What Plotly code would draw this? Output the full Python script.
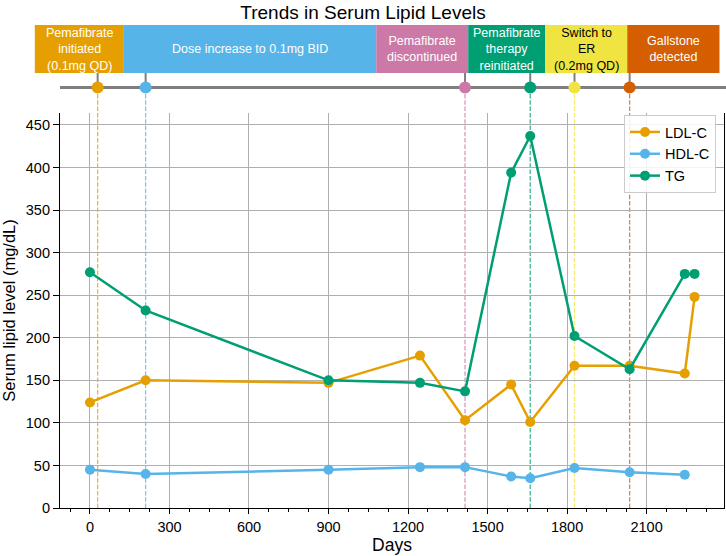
import plotly.graph_objects as go

# ---------------- data ----------------
days = [0, 210, 900, 1245, 1415, 1589, 1661, 1828, 2036, 2244, 2281]
ldl = [124, 150, 147, 179, 103, 145, 101, 167, 167, 158, 248]
hdl = [45, 40, 45, 48, 48, 37, 35, 47, 42, 39, None]
tg = [277, 232, 150, 147, 137, 394, 437, 202, 163, 275, 275]

event_days = [29, 210, 1415, 1661, 1828, 2036]
event_labels = [
    "Pemafibrate<br>initiated<br>(0.1mg QD)",
    "Dose increase to 0.1mg BID",
    "Pemafibrate<br>discontinued",
    "Pemafibrate<br>therapy<br>reinitiated",
    "Switch to<br>ER<br>(0.2mg QD)",
    "Gallstone<br>detected",
]
band_edges = [-208, 128, 1080, 1427, 1718, 2027, 2375]
event_colors = ["#E69F00", "#56B4E9", "#CC79A7", "#009E73", "#F0E442", "#D55E00"]
event_text_colors = ["white", "white", "white", "white", "black", "white"]

x_ticks = [0, 300, 600, 900, 1200, 1500, 1800, 2100]
y_ticks = [0, 50, 100, 150, 200, 250, 300, 350, 400, 450]

# ---------------- layout geometry ----------------
W, H = 726, 556
ml, mr, mt, mb = 30, 0, 20, 48
pw = W - ml - mr
ph = H - mt - mb
xdom = [(60 - ml) / pw, (724 - ml) / pw]
ydom = [0, (508 - 113) / ph]
y2dom = [(H - mb - 100) / ph, 1.0]
xrange_main = [-113, 2392]
scale = (xrange_main[1] - xrange_main[0]) / (xdom[1] - xdom[0])
xrange_top = [xrange_main[0] - xdom[0] * scale, xrange_main[1] + (1 - xdom[1]) * scale]
# top panel vertical units: value v -> pixel (100 - v)
y2range = [0, 80]
band_y0, band_y1 = 100 - 73, 100 - 25
line_y = 100 - 87.5
dash_top_paper = (H - mb - 88) / ph

FONT = "Liberation Sans, Arial, sans-serif"
C_LDL, C_HDL, C_TG = "#E69F00", "#56B4E9", "#009E73"

fig = go.Figure()

for name, vals, col in [("LDL-C", ldl, C_LDL), ("HDL-C", hdl, C_HDL), ("TG", tg, C_TG)]:
    fig.add_trace(go.Scatter(
        x=days, y=vals, name=name, mode="lines+markers",
        line=dict(color=col, width=2.5),
        marker=dict(color=col, size=10),
        connectgaps=False,
        xaxis="x", yaxis="y",
    ))

shapes = []
annotations = []

# dashed event lines
for d, c in zip(event_days, event_colors):
    shapes.append(dict(type="line", xref="x", yref="paper", x0=d, x1=d,
                       y0=0, y1=dash_top_paper,
                       line=dict(color=c, width=1.3, dash="4.5px,1.8px"), opacity=0.75, layer="between"))

# timeline gray line
shapes.append(dict(type="line", xref="x2", yref="y2", x0=xrange_main[0], x1=xrange_top[1],
                   y0=line_y, y1=line_y, line=dict(color="#7f7f7f", width=3), layer="below"))

# bands, connectors, labels
for i, (lab, c, tc) in enumerate(zip(event_labels, event_colors, event_text_colors)):
    x0, x1 = band_edges[i], band_edges[i + 1]
    shapes.append(dict(type="rect", xref="x2", yref="y2", x0=x0, x1=x1,
                       y0=band_y0, y1=band_y1, fillcolor=c, line=dict(width=0), layer="below"))
    annotations.append(dict(xref="x2", yref="y2", x=(x0 + x1) / 2, y=(band_y0 + band_y1) / 2,
                            text=lab, showarrow=False,
                            font=dict(family=FONT, size=12.5, color=tc)))
for d in event_days:
    shapes.append(dict(type="line", xref="x2", yref="y2", x0=d, x1=d,
                       y0=line_y, y1=band_y0, line=dict(color="#7f7f7f", width=2), layer="below"))

fig.add_trace(go.Scatter(
    x=event_days, y=[line_y] * len(event_days), mode="markers",
    marker=dict(color=event_colors, size=12),
    xaxis="x2", yaxis="y2", showlegend=False, hoverinfo="skip",
))

fig.update_layout(
    width=W, height=H,
    margin=dict(l=ml, r=mr, t=mt, b=mb),
    paper_bgcolor="white", plot_bgcolor="white",
    font=dict(family=FONT, size=14, color="black"),
    title=dict(text="Trends in Serum Lipid Levels", x=363 / W, xref="container",
               xanchor="center", y=1 - 12 / H, yanchor="middle",
               font=dict(family=FONT, size=19, color="black")),
    xaxis=dict(domain=xdom, range=xrange_main, tickvals=x_ticks, ticks="outside", ticklen=5,
               tickwidth=1.2, tickcolor="black",
               minor=dict(dtick=75, tick0=0, ticks="outside", ticklen=3, tickcolor="black", showgrid=False),
               showgrid=True, gridcolor="#b0b0b0", gridwidth=1,
               showline=True, linecolor="black", linewidth=1.2, zeroline=False,
               tickfont=dict(size=14.5),
               title=dict(text="Days", font=dict(size=17.5), standoff=4)),
    yaxis=dict(domain=ydom, range=[0, 464], tickvals=y_ticks, ticks="outside", ticklen=6,
               tickwidth=1.2, tickcolor="black",
               showgrid=True, gridcolor="#b0b0b0", gridwidth=1,
               showline=True, linecolor="black", linewidth=1.2, mirror=True, zeroline=False,
               tickfont=dict(size=14.5),
               title=dict(text="Serum lipid level (mg/dL)", font=dict(size=16.5), standoff=7)),
    xaxis2=dict(domain=[0, 1], range=xrange_top, anchor="y2", visible=False, fixedrange=True),
    yaxis2=dict(domain=y2dom, range=y2range, anchor="x2", visible=False, fixedrange=True),
    legend=dict(x=(716 - ml) / pw, y=ydom[1] - 2 / ph, xanchor="right", yanchor="top",
                bgcolor="rgba(255,255,255,0.85)", bordercolor="#cccccc", borderwidth=1,
                font=dict(size=14.5)),
    shapes=shapes,
    annotations=annotations,
    showlegend=True,
)

fig.write_html("out.html", config={"displayModeBar": False},
               post_script="document.body.style.margin='0px';document.body.style.padding='0px';")
